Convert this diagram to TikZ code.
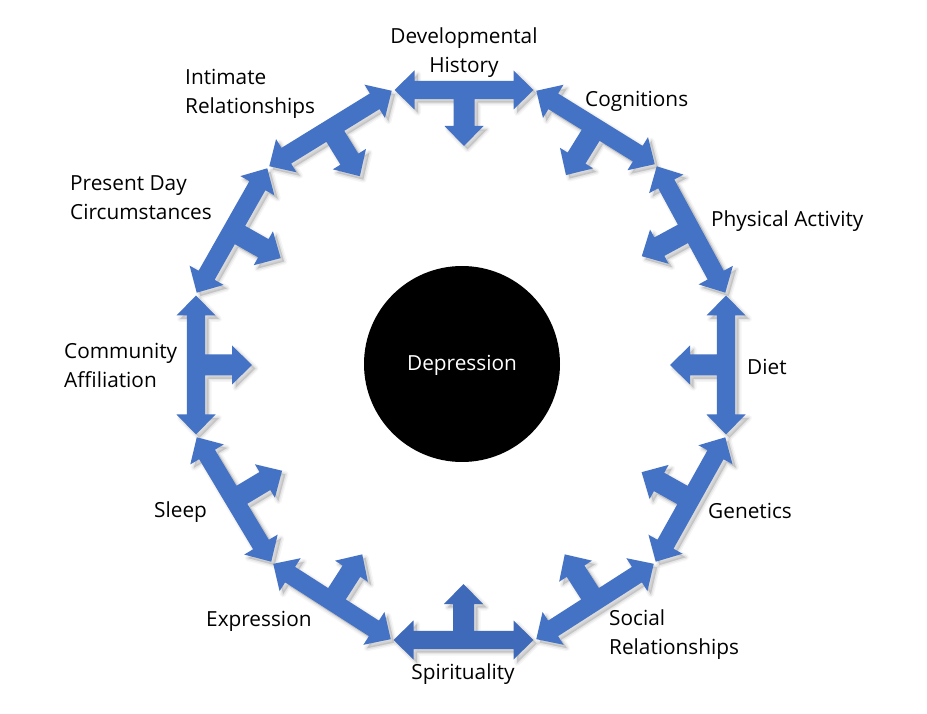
\documentclass[tikz,border=0pt]{standalone}
\usepackage{fontspec}
\setmainfont{Open Sans}
\usetikzlibrary{calc}
\definecolor{tblue}{RGB}{68,114,196}
\definecolor{tbluedark}{RGB}{63,106,186}
\tikzset{
  lbl/.style={inner sep=0pt, font=\fontsize{20.8}{29}\selectfont, text=black, yshift=-1.5pt},
  lblL/.style={lbl, anchor=west, align=left},
  lblC/.style={lbl, anchor=center, align=center},
  tfill/.style={fill=tblue},
  tfilldark/.style={fill=tbluedark},
}
% T-shaped double arrow along an edge, stem pointing inward (right side of travel)
\newcommand{\tpath}{(0,0) -- (20,19.5) -- (20,9.2) -- (\glen-20,9.2) -- (\glen-20,19.5) -- (\glen,0) -- (\glen-20,-19.5) -- (\glen-20,-9.2) -- (\glen/2+10.5,-9.2) -- (\glen/2+10.5,-36) -- (\glen/2+19.5,-36) -- (\glen/2,-56) -- (\glen/2-19.5,-36) -- (\glen/2-10.5,-36) -- (\glen/2-10.5,-9.2) -- (20,-9.2) -- (20,-19.5) -- cycle}
\newcommand{\tcompute}[2]{%
  \path let \p1=(#1), \p2=(#2) in \pgfextra{%
    \pgfmathsetmacro\tang{atan2(\y2-\y1,\x2-\x1)}%
    \pgfmathsetmacro\tlen{veclen(\x2-\x1,\y2-\y1)-3}%
    \xdef\gang{\tang}\xdef\glen{\tlen}%
    \xdef\gx{\x1}\xdef\gy{\y1}};}
\newcommand{\tshadow}[2]{%
  \tcompute{#1}{#2}%
  \begin{scope}[xshift=3.5, yshift=-3.5]
    \begin{scope}[shift={(\gx,\gy)}, rotate=\gang, xshift=1.5]
      \draw[black, line width=6, opacity=0.04, line join=round] \tpath;
      \draw[black, line width=3, opacity=0.06, line join=round] \tpath;
      \fill[black, opacity=0.14] \tpath;
    \end{scope}
  \end{scope}}
\newcommand{\tarrow}[3][tfill]{%
  \tcompute{#2}{#3}%
  \begin{scope}[shift={(\gx,\gy)}, rotate=\gang, xshift=1.5]
    \fill[#1] \tpath;
  \end{scope}}
\begin{document}
\begin{tikzpicture}[x=1pt, y=1pt]
  \useasboundingbox (0,0) rectangle (927,713);
  \fill[white] (0,0) rectangle (927,713);
  % ring vertices
  \coordinate (v1) at (393,623);
  \coordinate (v2) at (535,623);
  \coordinate (v3) at (656,548);
  \coordinate (v4) at (726,419);
  \coordinate (v5) at (726,277);
  \coordinate (v6) at (655,150);
  \coordinate (v7) at (535,73);
  \coordinate (v8) at (392,73);
  \coordinate (v9) at (272,150);
  \coordinate (v10) at (196,277);
  \coordinate (v11) at (196,419);
  \coordinate (v12) at (268,546);
  % shadows
  \tshadow{v1}{v2}\tshadow{v2}{v3}\tshadow{v3}{v4}\tshadow{v4}{v5}
  \tshadow{v5}{v6}\tshadow{v6}{v7}\tshadow{v7}{v8}\tshadow{v8}{v9}
  \tshadow{v9}{v10}\tshadow{v10}{v11}\tshadow{v11}{v12}\tshadow{v12}{v1}
  % arrows
  \tarrow{v1}{v2}\tarrow{v2}{v3}\tarrow{v3}{v4}\tarrow{v4}{v5}
  \tarrow{v5}{v6}\tarrow{v6}{v7}\tarrow[tfilldark]{v7}{v8}\tarrow{v8}{v9}
  \tarrow{v9}{v10}\tarrow{v10}{v11}\tarrow{v11}{v12}\tarrow{v12}{v1}
  % centre
  \node[circle, fill=black, minimum size=196pt, inner sep=0pt] (dep) at (462,349) {};
  \node[lblC, text=white] (deplbl) at (dep.center) {Depression};
  % labels
  \node[lblC] (dev) at (464,661.5) {Developmental\\History};
  \node[lblL] (cog) at (585,613) {Cognitions};
  \node[lblL] (phys) at (711,493) {Physical Activity};
  \node[lblL] (diet) at (747,348) {Diet};
  \node[lblL] (gen) at (708,204) {Genetics};
  \node[lblL] (soc) at (609,80) {Social\\Relationships};
  \node[lblC] (spir) at (463,40) {Spirituality};
  \node[lblL] (expr) at (206,93) {Expression};
  \node[lblL] (sleep) at (154,202) {Sleep};
  \node[lblL] (comm) at (64,349.5) {Community\\Affiliation};
  \node[lblL] (pres) at (70,517) {Present Day\\Circumstances};
  \node[lblL] (intim) at (185,621) {Intimate\\Relationships};
\end{tikzpicture}
\end{document}
